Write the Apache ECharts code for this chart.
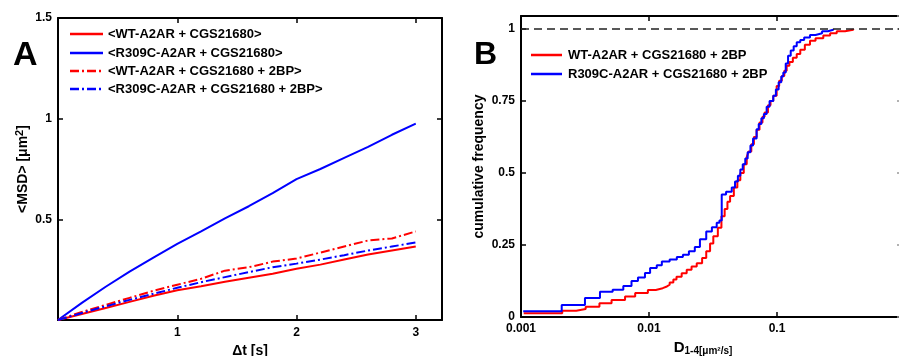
<!DOCTYPE html>
<html>
<head>
<meta charset="utf-8">
<script src="https://cdn.jsdelivr.net/npm/echarts@6/dist/echarts.min.js"></script>
<style>
  html, body { margin: 0; padding: 0; background: #fff; }
  #chart { width: 899px; height: 356px; }
</style>
</head>
<body>
<div id="chart"></div>
<script>
// ---------- Panel A: MSD vs time lag ----------
const msdTime = [0, 0.2, 0.4, 0.6, 0.8, 1.0, 1.2, 1.4, 1.6, 1.8, 2.0, 2.2, 2.4, 2.6, 2.8, 3.0];
const msdWtCgs = [0, 0.03, 0.06, 0.09, 0.12, 0.148, 0.168, 0.19, 0.21, 0.23, 0.255, 0.275, 0.30, 0.325, 0.345, 0.365];
const msdR309cCgs = [0, 0.085, 0.165, 0.24, 0.31, 0.378, 0.44, 0.505, 0.565, 0.63, 0.70, 0.75, 0.805, 0.86, 0.92, 0.975];
const msdWtCgs2bp = [0, 0.04, 0.075, 0.11, 0.145, 0.175, 0.205, 0.245, 0.262, 0.29, 0.305, 0.335, 0.365, 0.395, 0.405, 0.44];
const msdR309cCgs2bp = [0, 0.035, 0.068, 0.10, 0.13, 0.16, 0.188, 0.213, 0.238, 0.262, 0.28, 0.30, 0.322, 0.345, 0.365, 0.385];
const msdNames = ['<WT-A2AR + CGS21680>', '<R309C-A2AR + CGS21680>', '<WT-A2AR + CGS21680 + 2BP>', '<R309C-A2AR + CGS21680 + 2BP>'];

// ---------- Panel B: cumulative frequency of D1-4 ----------
const cdfWtD = [0.00105, 0.0021, 0.0027, 0.0032, 0.0041, 0.0051, 0.0065, 0.0078, 0.0098, 0.0113, 0.0128, 0.0138, 0.0145, 0.0155, 0.0164, 0.018, 0.0197, 0.0215, 0.0236, 0.026, 0.028, 0.030, 0.0318, 0.0345, 0.0368, 0.039, 0.041, 0.043, 0.046, 0.049, 0.0517, 0.055, 0.058, 0.060, 0.063, 0.066, 0.0693, 0.073, 0.077, 0.080, 0.085, 0.089, 0.0935, 0.0994, 0.104, 0.109, 0.114, 0.119, 0.125, 0.133, 0.1426, 0.152, 0.165, 0.181, 0.20, 0.23, 0.26, 0.293, 0.34, 0.394];
const cdfWtF = [0.013, 0.022, 0.028, 0.036, 0.048, 0.059, 0.071, 0.083, 0.094, 0.100, 0.106, 0.112, 0.12, 0.13, 0.14, 0.152, 0.164, 0.175, 0.187, 0.205, 0.228, 0.255, 0.28, 0.31, 0.35, 0.375, 0.40, 0.42, 0.45, 0.475, 0.50, 0.53, 0.555, 0.575, 0.60, 0.625, 0.65, 0.675, 0.695, 0.71, 0.735, 0.75, 0.768, 0.802, 0.82, 0.837, 0.855, 0.872, 0.885, 0.90, 0.913, 0.928, 0.945, 0.959, 0.968, 0.977, 0.985, 0.992, 0.997, 1.0];
const cdfR309cD = [0.00104, 0.00208, 0.00316, 0.00414, 0.0052, 0.0063, 0.0073, 0.0082, 0.0093, 0.0102, 0.0115, 0.0126, 0.0145, 0.0165, 0.0184, 0.0205, 0.0228, 0.025, 0.028, 0.031, 0.0338, 0.0355, 0.037, 0.040, 0.0443, 0.047, 0.0495, 0.0517, 0.054, 0.0565, 0.059, 0.062, 0.065, 0.0693, 0.072, 0.0755, 0.079, 0.083, 0.0875, 0.0935, 0.098, 0.103, 0.108, 0.112, 0.117, 0.122, 0.128, 0.135, 0.1426, 0.152, 0.163, 0.181, 0.20, 0.225, 0.25, 0.275];
const cdfR309cF = [0.02, 0.042, 0.066, 0.088, 0.095, 0.108, 0.125, 0.137, 0.153, 0.17, 0.18, 0.193, 0.20, 0.208, 0.216, 0.228, 0.243, 0.27, 0.297, 0.312, 0.327, 0.335, 0.425, 0.435, 0.45, 0.47, 0.49, 0.512, 0.53, 0.55, 0.572, 0.595, 0.62, 0.652, 0.67, 0.69, 0.705, 0.73, 0.75, 0.768, 0.79, 0.815, 0.835, 0.849, 0.88, 0.907, 0.925, 0.94, 0.954, 0.962, 0.97, 0.979, 0.985, 0.992, 0.997, 1.0];
const cdfNames = ['WT-A2AR + CGS21680 + 2BP', 'R309C-A2AR + CGS21680 + 2BP'];

const msdTicks = { x: [1, 2, 3], y: [0.5, 1, 1.5] };
const cdfTicks = { x: [0.001, 0.01, 0.1], y: [0, 0.25, 0.5, 0.75, 1] };

const FONT = '"Liberation Sans", Arial, Helvetica, sans-serif';
const RED = '#ff0000', BLUE = '#0000ff';
const DASHDOT = [9, 3, 2, 3];

const pairs = (xs, ys) => xs.map((x, i) => [x, ys[i]]);

const axisLine = () => ({ show: true, onZero: false, lineStyle: { color: '#000', width: 2 } });
const tick = () => ({ show: true, inside: true, length: 5, lineStyle: { color: '#000', width: 1.5 } });
const labelStyle = () => ({ color: '#000', fontFamily: FONT, fontWeight: 'bold', fontSize: 12 });

// legend drawn as graphic (line sample + text)
const legendSpecs = [
  { names: msdNames, colors: [RED, BLUE, RED, BLUE], dash: [null, null, DASHDOT, DASHDOT], x1: 70, x2: 103, tx: 108, ys: [34, 53, 71, 89] },
  { names: cdfNames, colors: [RED, BLUE], dash: [null, null], x1: 531, x2: 562, tx: 568, ys: [55, 74] }
];
const legendGraphics = [];
legendSpecs.forEach(spec => {
  spec.names.forEach((name, i) => {
    legendGraphics.push({
      type: 'line', silent: true,
      shape: { x1: spec.x1, y1: spec.ys[i], x2: spec.x2, y2: spec.ys[i] },
      style: { stroke: spec.colors[i], lineWidth: 2.5, lineDash: spec.dash[i] || null }
    });
    legendGraphics.push({
      type: 'text', silent: true, x: spec.tx, y: spec.ys[i],
      style: { text: name, font: 'bold 13px ' + FONT, fill: '#000', verticalAlign: 'middle', textVerticalAlign: 'middle' }
    });
  });
});

const chart = echarts.init(document.getElementById('chart'), null, { renderer: 'canvas' });

const option = {
  animation: false,
  backgroundColor: '#fff',
  title: [
    { text: 'A', left: 8, top: 34, textStyle: { fontFamily: FONT, fontWeight: 'bold', fontSize: 34, color: '#000' } },
    { text: 'B', left: 469, top: 34, textStyle: { fontFamily: FONT, fontWeight: 'bold', fontSize: 32, color: '#000' } }
  ],
  graphic: legendGraphics,
  grid: [
    { left: 58, top: 18, width: 384, height: 302, containLabel: false, outerBoundsMode: 'none' },
    { left: 521, top: 16, width: 384, height: 301, containLabel: false, outerBoundsMode: 'none' }
  ],
  xAxis: [
    {
      gridIndex: 0, type: 'value', min: 0, max: 3.22, interval: 1,
      axisLine: axisLine(), axisTick: tick(), splitLine: { show: false },
      axisLabel: Object.assign(labelStyle(), {
        margin: 7, showMinLabel: false, showMaxLabel: false,
        formatter: v => (msdTicks.x.indexOf(v) >= 0 ? String(v) : '')
      }),
      name: 'Δt [s]', nameLocation: 'middle', nameGap: 23,
      nameTextStyle: { fontFamily: FONT, fontWeight: 'bold', fontSize: 14, color: '#000' }
    },
    {
      gridIndex: 0, type: 'value', position: 'top', min: 0, max: 3.22, interval: 1,
      axisLine: axisLine(), axisTick: tick(), axisLabel: { show: false }, splitLine: { show: false }
    },
    {
      gridIndex: 1, type: 'log', logBase: 10, min: 0.001, max: 1,
      axisLine: axisLine(), axisTick: tick(), splitLine: { show: false }, minorTick: { show: false },
      axisLabel: Object.assign(labelStyle(), {
        margin: 6, showMaxLabel: false,
        formatter: v => {
          const hit = cdfTicks.x.find(t => Math.abs(t - v) / t < 1e-6);
          return hit !== undefined ? String(hit) : '';
        }
      }),
      name: 'D{sub|1-4[μm²/s]}', nameLocation: 'middle', nameGap: 21,
      nameTextStyle: {
        fontFamily: FONT, fontWeight: 'bold', fontSize: 15, color: '#000', padding: [0, 20, 0, 0],
        rich: { sub: { fontFamily: FONT, fontWeight: 'bold', fontSize: 10, color: '#000', verticalAlign: 'bottom', padding: [7, 0, 0, 0] } }
      }
    },
    {
      gridIndex: 1, type: 'log', logBase: 10, position: 'top', min: 0.001, max: 1,
      axisLine: axisLine(), axisTick: tick(), axisLabel: { show: false }, splitLine: { show: false }, minorTick: { show: false }
    }
  ],
  yAxis: [
    {
      gridIndex: 0, type: 'value', min: 0, max: 1.5, interval: 0.5,
      axisLine: axisLine(), axisTick: tick(), splitLine: { show: false },
      axisLabel: Object.assign(labelStyle(), {
        margin: 6, showMinLabel: false,
        formatter: v => (msdTicks.y.indexOf(v) >= 0 ? String(v) : '')
      }),
      name: '<MSD> [μm{sup|2}]', nameLocation: 'middle', nameGap: 25,
      nameTextStyle: {
        fontFamily: FONT, fontWeight: 'bold', fontSize: 14, color: '#000',
        rich: { sup: { fontFamily: FONT, fontWeight: 'bold', fontSize: 11, color: '#000', verticalAlign: 'top', padding: [0, 0, 8, 0] } }
      }
    },
    {
      gridIndex: 0, type: 'value', position: 'right', min: 0, max: 1.5, interval: 0.5,
      axisLine: axisLine(), axisTick: tick(), axisLabel: { show: false }, splitLine: { show: false }
    },
    {
      gridIndex: 1, type: 'value', min: 0, max: 1.045, interval: 0.25,
      axisLine: axisLine(), axisTick: tick(), splitLine: { show: false },
      axisLabel: Object.assign(labelStyle(), {
        margin: 6, showMaxLabel: false,
        formatter: v => (cdfTicks.y.indexOf(v) >= 0 ? String(v) : '')
      }),
      name: 'cumulative frequency', nameLocation: 'middle', nameGap: 35,
      nameTextStyle: { fontFamily: FONT, fontWeight: 'bold', fontSize: 14, color: '#000' }
    },
    {
      gridIndex: 1, type: 'value', position: 'right', min: 0, max: 1.045, interval: 0.25,
      axisLine: axisLine(), axisTick: { show: true, inside: true, length: 8, lineStyle: { color: '#999', width: 1.5 } },
      axisLabel: { show: false }, splitLine: { show: false }
    }
  ],
  series: [
    {
      name: msdNames[0], type: 'line', xAxisIndex: 0, yAxisIndex: 0, showSymbol: false, symbol: 'none',
      data: pairs(msdTime, msdWtCgs), lineStyle: { color: RED, width: 2 }, itemStyle: { color: RED }
    },
    {
      name: msdNames[1], type: 'line', xAxisIndex: 0, yAxisIndex: 0, showSymbol: false, symbol: 'none',
      data: pairs(msdTime, msdR309cCgs), lineStyle: { color: BLUE, width: 2 }, itemStyle: { color: BLUE }
    },
    {
      name: msdNames[2], type: 'line', xAxisIndex: 0, yAxisIndex: 0, showSymbol: false, symbol: 'none',
      data: pairs(msdTime, msdWtCgs2bp), lineStyle: { color: RED, width: 2, type: DASHDOT }, itemStyle: { color: RED }
    },
    {
      name: msdNames[3], type: 'line', xAxisIndex: 0, yAxisIndex: 0, showSymbol: false, symbol: 'none',
      data: pairs(msdTime, msdR309cCgs2bp), lineStyle: { color: BLUE, width: 2, type: DASHDOT }, itemStyle: { color: BLUE }
    },
    {
      name: cdfNames[0], type: 'line', xAxisIndex: 2, yAxisIndex: 2, showSymbol: false, symbol: 'none', step: 'end',
      data: pairs(cdfWtD, cdfWtF), lineStyle: { color: RED, width: 2 }, itemStyle: { color: RED },
      markLine: {
        silent: true, symbol: 'none', label: { show: false },
        lineStyle: { color: '#222', width: 1.5, type: [8, 5] },
        data: [{ yAxis: 1 }]
      }
    },
    {
      name: cdfNames[1], type: 'line', xAxisIndex: 2, yAxisIndex: 2, showSymbol: false, symbol: 'none', step: 'end',
      data: pairs(cdfR309cD, cdfR309cF), lineStyle: { color: BLUE, width: 2 }, itemStyle: { color: BLUE }
    }
  ]
};

chart.setOption(option);
</script>
</body>
</html>
